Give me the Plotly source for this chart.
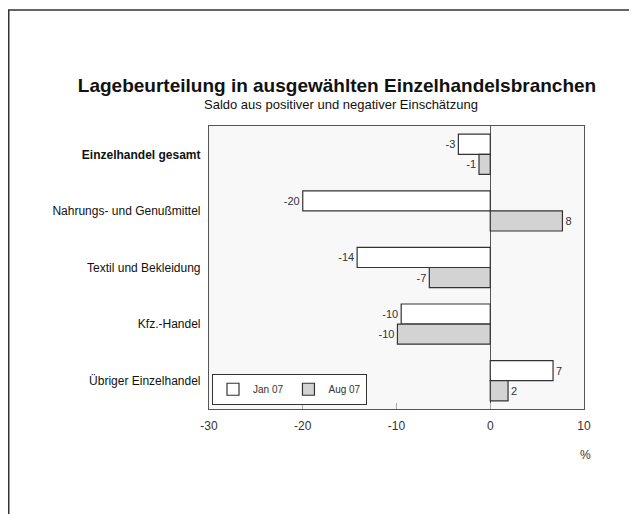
import plotly.graph_objects as go

# Branchen (von oben nach unten)
branchen = ["<b>Einzelhandel gesamt</b>", "Nahrungs- und Genußmittel",
            "Textil und Bekleidung", "Kfz.-Handel", "Übriger Einzelhandel"]

jan07 = [-3.4, -20.0, -14.2, -9.5, 6.7]
aug07 = [-1.2, 7.7, -6.5, -9.9, 1.9]
jan07_text = ["-3", "-20", "-14", "-10", "7"]
aug07_text = ["-1", "8", "-7", "-10", "2"]

x_ticks = [-30, -20, -10, 0, 10]
x_ticktext = ["-30", "-20", "-10", "0", "10"]

font = "Arial, Liberation Sans, sans-serif"
dark = "#333333"

fig = go.Figure()
fig.add_trace(go.Bar(y=branchen, x=jan07, orientation="h", name="Jan 07",
                     marker=dict(color="white", line=dict(color=dark, width=1.2)),
                     text=jan07_text, textposition="outside",
                     textfont=dict(size=11, color=dark), cliponaxis=False))
fig.add_trace(go.Bar(y=branchen, x=aug07, orientation="h", name="Aug 07",
                     marker=dict(color="#d3d3d3", line=dict(color=dark, width=1.2)),
                     text=aug07_text, textposition="outside",
                     textfont=dict(size=11, color=dark), cliponaxis=False))

# page has an 8px body margin, so everything is placed 8px up/left
fig.update_layout(
    width=637, height=514,
    margin=dict(l=201, r=61, t=118, b=113),
    paper_bgcolor="white", plot_bgcolor="#f8f8f8",
    font=dict(family=font, color="#111111"),
    barmode="group", bargap=0.29, bargroupgap=0,
    title=dict(text="<b>Lagebeurteilung in ausgewählten Einzelhandelsbranchen</b>",
               x=0.5165, xanchor="center", y=0.85, yanchor="middle",
               font=dict(size=19, family=font, color="#111111")),
    legend=dict(orientation="h", x=0.008, y=0.015, xanchor="left", yanchor="bottom",
                bgcolor="white", bordercolor=dark, borderwidth=1,
                font=dict(size=10, color=dark), itemwidth=30,
                tracegroupgap=0, traceorder="normal"),
    xaxis=dict(range=[-30, 10], tickvals=x_ticks, ticktext=x_ticktext,
               ticks="inside", ticklen=6, ticklabelstandoff=5,
               tickcolor="#aaaaaa", showgrid=False, zeroline=True,
               zerolinecolor="#555555", zerolinewidth=1.2,
               showline=True, linecolor="#555555", linewidth=1.2, mirror=True,
               tickfont=dict(size=12, color=dark)),
    yaxis=dict(autorange="reversed", showgrid=False, ticks="", ticklabelstandoff=5,
               showline=True, linecolor="#555555", linewidth=1.2, mirror=True,
               tickfont=dict(size=12, color="#111111")),
    annotations=[
        dict(text="Saldo aus positiver und negativer Einschätzung", xref="paper", yref="paper",
             x=0.352, y=1.0777, xanchor="center", yanchor="middle", showarrow=False,
             font=dict(size=13, color="#111111")),
        dict(text="%", xref="paper", yref="paper", x=1.0045, y=-0.1625,
             xanchor="center", yanchor="middle", showarrow=False,
             font=dict(size=12, color=dark)),
    ],
    shapes=[dict(type="rect", xref="paper", yref="paper", x0=-0.534, x1=1.3,
                 y0=-0.6, y1=1.41, line=dict(color=dark, width=1.5),
                 fillcolor="rgba(0,0,0,0)", layer="below")],
)

fig.write_html("out.html")
